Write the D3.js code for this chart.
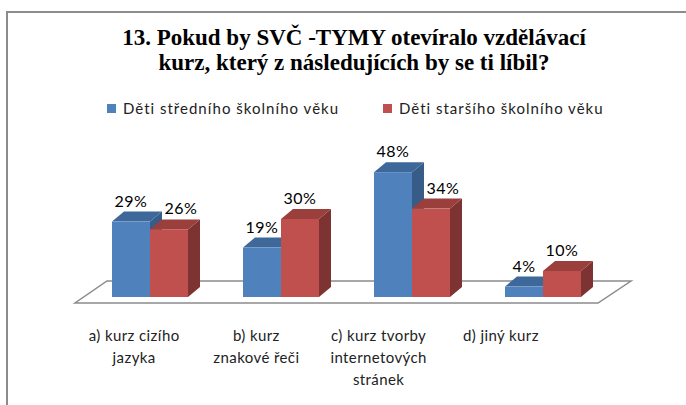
<!DOCTYPE html>
<html>
<head>
<meta charset="utf-8">
<script src="https://cdn.jsdelivr.net/npm/d3@7"></script>
<style>
body { margin: 0; background: #fff; }
</style>
</head>
<body>
<div id="chart"></div>
<script>
// data
var categories = [["a) kurz cizího", "jazyka"], ["b) kurz", "znakové řeči"], ["c) kurz tvorby", "internetových", "stránek"], ["d) jiný kurz"]];
var series = ["Děti středního školního věku", "Děti staršího školního věku"];
var stredni = [0.29, 0.19, 0.48, 0.04];
var starsi = [0.26, 0.30, 0.34, 0.10];

var w = 686, h = 405;
var colors = [
	{front: "#4f81bd", top: "#3d6899", side: "#375c88"},
	{front: "#c0504d", top: "#9a3f3c", side: "#7d3331"}
];
var depth = {x: 12, y: -10};
var base = 297;

var svg = d3.select("#chart").append("svg")
	.attr("width", w)
	.attr("height", h);

// frame (only left and top visible)
svg.append("path")
	.attr("d", "M7," + h + " L7,12 L" + w + ",12")
	.attr("fill", "none")
	.attr("stroke", "#8c8c8c")
	.attr("stroke-width", 2);

// title
var title = ["13. Pokud by SVČ -TYMY otevíralo vzdělávací", "kurz, který z následujících by se ti líbil?"];
svg.selectAll("text.title").data(title).enter().append("text")
	.attr("class", "title")
	.attr("x", 354)
	.attr("y", function(d, i){ return 45 + i * 25 })
	.attr("text-anchor", "middle")
	.style("font-family", "'Liberation Serif', serif")
	.style("font-weight", "bold")
	.style("font-size", "23px")
	.text(function(d){ return d });

// legend
var legendX = [107, 383];
var legend = svg.selectAll("g.legend").data(series).enter().append("g")
	.attr("class", "legend")
	.attr("transform", function(d, i){ return "translate(" + legendX[i] + ",104)" });
legend.append("rect")
	.attr("width", 9).attr("height", 9)
	.attr("fill", function(d, i){ return colors[i].front });
legend.append("text")
	.attr("x", 16).attr("y", 10)
	.style("font-family", "Lato, sans-serif")
	.style("font-size", "15px")
	.style("letter-spacing", "1px")
	.attr("fill", "#222")
	.text(function(d){ return d });

// scales
var keys = categories.map(function(d){ return d.join(" ") });
var x = d3.scaleBand().domain(keys).range([84.5, 608.5]);
var xSub = d3.scaleBand().domain([0, 1]).range([-38, 38]);
var y = d3.scaleLinear().domain([0, 0.5]).range([base, base - 130]);
var xLabel = d3.scaleBand().domain(keys).range([73, 562]);

// floor
var floor = [[75, 303], [598, 303], [631, 281], [107, 281]];
svg.append("path")
	.attr("d", d3.line()(floor) + "Z")
	.attr("fill", "#fff")
	.attr("stroke", "#8c8c8c")
	.attr("stroke-width", 1.5);

// bars
var data = [];
keys.forEach(function(k, i){
	data.push({cat: k, s: 0, v: stredni[i], other: starsi[i]});
	data.push({cat: k, s: 1, v: starsi[i], other: stredni[i]});
});

var bar = svg.selectAll("g.bar").data(data).enter().append("g").attr("class", "bar");
function bx(d){ return x(d.cat) + x.bandwidth() / 2 + xSub(d.s) }
var bw = xSub.bandwidth();

bar.append("path")
	.attr("fill", function(d){ return colors[d.s].side })
	.attr("d", function(d){
		var x0 = bx(d) + bw, y0 = y(d.v);
		return d3.line()([[x0, y0], [x0 + depth.x, y0 + depth.y], [x0 + depth.x, base + depth.y], [x0, base]]) + "Z";
	});
bar.append("path")
	.attr("fill", function(d){ return colors[d.s].top })
	.attr("d", function(d){
		var x0 = bx(d), y0 = y(d.v);
		return d3.line()([[x0, y0], [x0 + depth.x, y0 + depth.y], [x0 + bw + depth.x, y0 + depth.y], [x0 + bw, y0]]) + "Z";
	});
bar.append("rect")
	.attr("fill", function(d){ return colors[d.s].front })
	.attr("x", bx)
	.attr("y", function(d){ return y(d.v) })
	.attr("width", bw)
	.attr("height", function(d){ return base - y(d.v) });

// value labels, the lower red one moves right so it clears the blue bar
bar.append("text")
	.attr("x", function(d){
		var shift = (d.s == 1 && d.v < d.other) ? depth.x : 0;
		return bx(d) + bw / 2 + shift;
	})
	.attr("y", function(d){ return y(d.v) + depth.y - 5 })
	.attr("text-anchor", "middle")
	.style("font-family", "Lato, sans-serif")
	.style("font-size", "16px")
	.style("letter-spacing", "0.5px")
	.attr("fill", "#000")
	.text(function(d){ return Math.round(d.v * 100) + "%" });

// category labels
var cat = svg.selectAll("text.cat").data(categories).enter().append("text")
	.attr("class", "cat")
	.attr("text-anchor", "middle")
	.style("font-family", "Lato, sans-serif")
	.style("font-size", "15px")
	.style("letter-spacing", "0.4px")
	.attr("fill", "#222")
	.attr("transform", function(d){ return "translate(" + (xLabel(d.join(" ")) + xLabel.bandwidth() / 2) + ",341)" });
cat.selectAll("tspan").data(function(d){ return d }).enter().append("tspan")
	.attr("x", 0)
	.attr("y", function(d, i){ return i * 22 })
	.text(function(d){ return d });
</script>
</body>
</html>
